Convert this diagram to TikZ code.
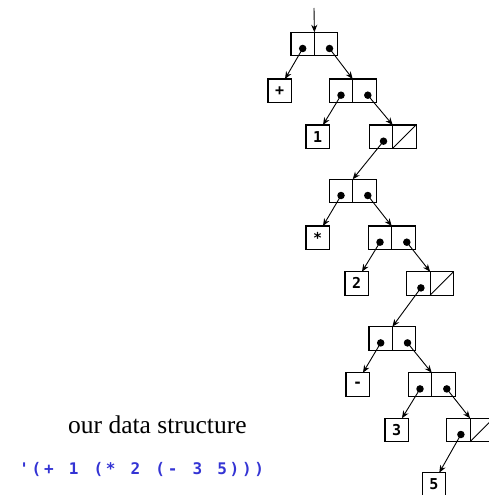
\documentclass[tikz,border=0pt]{standalone}
\usepackage{fontspec}
\newfontfamily\monofam{DejaVu Sans Mono}
\newfontfamily\captionfam{Liberation Serif}
\usetikzlibrary{arrows.meta,calc}
\definecolor{codeblue}{RGB}{52,52,212}

\tikzset{
  half/.style={draw, line width=1.1pt, minimum width=23.4pt, minimum height=23.4pt,
               inner sep=0pt, outer sep=0pt, anchor=north west},
  atom/.style={half, font=\monofam\bfseries\fontsize{15}{15}\selectfont},
  dot/.style={circle, fill, inner sep=0pt, minimum size=7.5pt},
  ptr/.style={-{Stealth[length=7.5pt,width=6pt]}, line width=0.9pt},
}

% a cons cell: car half (#1-a), cdr half (#1-d)
\newcommand\conscell[3]{%
  \node[half] (#1-a) at (#2,#3) {};
  \node[half] (#1-d) at (#1-a.north east) {};
}
% pointer dots in the car / cdr halves
\newcommand\cardot[2]{\node[dot] (#1-pa) at ($(#1-a.center)+(#2,4.5)$) {};}
\newcommand\cdrdot[1]{\node[dot] (#1-pd) at ($(#1-d.center)+(3.4,4.5)$) {};}
% the empty list: a slash through the cdr half
\newcommand\nilmark[1]{\draw[line width=0.9pt] (#1-d.south west) -- (#1-d.north east);}
% fixed-pitch character cell for the quoted expression
\newcommand\mc[1]{\makebox[12.37pt]{#1}}

\begin{document}
\begin{tikzpicture}[x=1pt, y=-1pt]
  \useasboundingbox (0,0) rectangle (489,495);
  \clip (0,0) rectangle (489,495);

  % cells of the list structure
  \conscell{c1}{291}{32.3}
  \conscell{c2}{329.3}{79}
  \conscell{c3}{369.3}{125}
  \conscell{c4}{329.3}{179.3}
  \conscell{c5}{368.3}{226}
  \conscell{c6}{406.7}{271.7}
  \conscell{c7}{369}{326.7}
  \conscell{c8}{408.3}{372.7}
  \conscell{c9}{446.7}{418.3}

  % atoms
  \node[atom] (plus)  at (268,79)     {+};
  \node[atom] (one)   at (306,125)    {1};
  \node[atom] (times) at (306,226)    {*};
  \node[atom] (two)   at (345,271.7)  {2};
  \node[atom] (minus) at (346,372.7)  {-};
  \node[atom] (three) at (385,418.3)  {3};
  \node[atom] (five)  at (422.3,472.7){5};

  % pointer dots
  \cardot{c1}{0}  \cdrdot{c1}
  \cardot{c2}{0}  \cdrdot{c2}
  \cardot{c3}{2.5}
  \cardot{c4}{0}  \cdrdot{c4}
  \cardot{c5}{0}  \cdrdot{c5}
  \cardot{c6}{2.5}
  \cardot{c7}{0}  \cdrdot{c7}
  \cardot{c8}{0}  \cdrdot{c8}
  \cardot{c9}{2.5}

  \nilmark{c3}
  \nilmark{c6}
  \nilmark{c9}

  % entry pointer
  \coordinate (entry) at (314,8);
  \draw[ptr] (entry) -- (c1-a.north east);

  % car pointers
  \draw[ptr] (c1-pa.center) -- ($(plus.north)!0.45!(plus.north east)$);
  \draw[ptr] (c2-pa.center) -- ($(one.north)!0.45!(one.north east)$);
  \draw[ptr] (c3-pa.center) -- (c4-a.north east);
  \draw[ptr] (c4-pa.center) -- ($(times.north)!0.45!(times.north east)$);
  \draw[ptr] (c5-pa.center) -- ($(two.north)!0.45!(two.north east)$);
  \draw[ptr] (c6-pa.center) -- (c7-a.north east);
  \draw[ptr] (c7-pa.center) -- ($(minus.north)!0.45!(minus.north east)$);
  \draw[ptr] (c8-pa.center) -- ($(three.north)!0.45!(three.north east)$);
  \draw[ptr] (c9-pa.center) -- ($(five.north)!0.45!(five.north east)$);

  % cdr pointers
  \draw[ptr] (c1-pd.center) -- (c2-a.north east);
  \draw[ptr] (c2-pd.center) -- (c3-a.north east);
  \draw[ptr] (c4-pd.center) -- (c5-a.north east);
  \draw[ptr] (c5-pd.center) -- (c6-a.north east);
  \draw[ptr] (c7-pd.center) -- (c8-a.north east);
  \draw[ptr] (c8-pd.center) -- (c9-a.north east);

  % captions
  \node[anchor=base west, inner sep=0pt, font=\captionfam\fontsize{25.5}{25.5}\selectfont]
    (caption) at (68,433) {our data structure};
  \node[anchor=base west, inner sep=0pt, text=codeblue,
        font=\monofam\bfseries\fontsize{16}{16}\selectfont]
    (expr) at (17.8,474)
    {\mc{'}\mc{(}\mc{+}\mc{}\mc{1}\mc{}\mc{(}\mc{*}\mc{}\mc{2}\mc{}\mc{(}\mc{-}\mc{}\mc{3}\mc{}\mc{5}\mc{)}\mc{)}\mc{)}};
\end{tikzpicture}
\end{document}
